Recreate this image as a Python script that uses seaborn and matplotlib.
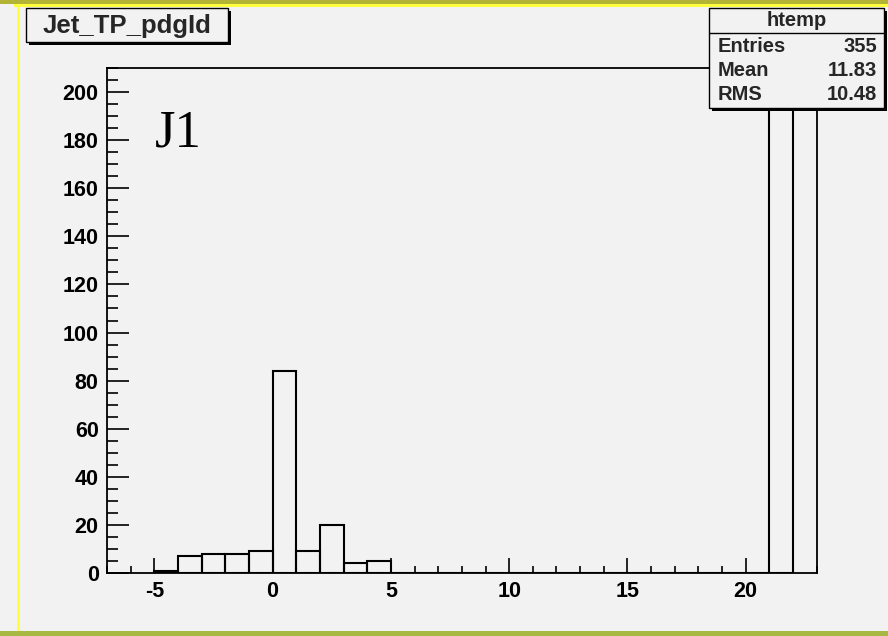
import numpy as np
import matplotlib
matplotlib.use("Agg")
import matplotlib.pyplot as plt
from matplotlib.patches import Rectangle
from matplotlib.lines import Line2D
from matplotlib.ticker import MultipleLocator
import seaborn as sns

# ---- data ----
pdg_values = [-5, -4, -3, -2, -1, 0, 1, 2, 3, 4, 21]
counts = [1, 7, 8, 8, 9, 84, 9, 20, 4, 5, 200]
x_ticks = [-5, 0, 5, 10, 15, 20]
y_ticks = [0, 20, 40, 60, 80, 100, 120, 140, 160, 180, 200]
title = "Jet_TP_pdgId"
stats_name = "htemp"
stats_labels = ["Entries", "Mean", "RMS"]
stats_values = ["355", "11.83", "10.48"]
annotation = "J1"

sns.set_style("ticks")
plt.rcParams["font.family"] = ["Liberation Sans", "DejaVu Sans"]
plt.rcParams["axes.unicode_minus"] = False

W, H = 888, 636
BG = "#f2f2f2"
fig = plt.figure(figsize=(W / 100, H / 100), dpi=100)
fig.patch.set_facecolor(BG)


def fx(px):
    return px / W


def fy(py):
    return 1 - py / H


def frect(x0, y0, x1, y1, **kw):
    r = Rectangle((fx(x0), fy(y1)), fx(x1) - fx(x0), fy(y0) - fy(y1),
                  transform=fig.transFigure, **kw)
    fig.add_artist(r)
    return r


# canvas border decorations
frect(0, 0, W, 4, facecolor="#b3b336", edgecolor="none", zorder=0)
frect(14, 4, W, 7, facecolor="#ffff3c", edgecolor="none", zorder=0)
frect(17, 4, 20, 632, facecolor="#ffff3c", edgecolor="none", zorder=0)
frect(0, 631, W, 636, facecolor="#a9b842", edgecolor="none", zorder=0)

ax_left, ax_right, ax_top, ax_bot = 107, 816.7, 68, 573
ax = fig.add_axes([fx(ax_left), fy(ax_bot), fx(ax_right) - fx(ax_left),
                   fy(ax_top) - fy(ax_bot)])
ax.set_facecolor(BG)

sns.histplot(x=pdg_values, weights=counts, binwidth=1, binrange=(-5, 22),
             element="bars", fill=False, color="black", linewidth=1.5, ax=ax)

ax.set_xlim(-7, 23)
ax.set_ylim(0, 210)
ax.set_xlabel("")
ax.set_ylabel("")
ax.set_xticks(x_ticks)
ax.set_yticks(y_ticks)
ax.xaxis.set_minor_locator(MultipleLocator(1))
ax.yaxis.set_minor_locator(MultipleLocator(5))
ax.tick_params(axis="both", which="both", direction="in", top=False,
               right=False, colors="black", width=1.2)
ax.tick_params(axis="x", which="major", length=10.5, pad=6)
ax.tick_params(axis="x", which="minor", length=5)
ax.tick_params(axis="y", which="major", length=15.5, pad=6)
ax.tick_params(axis="y", which="minor", length=7.7)
for lab in ax.get_xticklabels() + ax.get_yticklabels():
    lab.set_fontweight("bold")
    lab.set_fontsize(15.5)
for s in ax.spines.values():
    s.set_visible(True)
    s.set_linewidth(1.3)
    s.set_color("black")

# J1 annotation
fig.text(fx(155), fy(146), annotation, family=["Liberation Serif", "DejaVu Serif"],
         fontsize=38, ha="left", va="baseline", color="black")

# title box
frect(29, 11, 231, 45, facecolor="black", edgecolor="none", zorder=5)
frect(26, 8, 228, 42, facecolor=BG, edgecolor="black", linewidth=1.0, zorder=6)
fig.text(fx(127), fy(25.5), title, fontsize=18.5, fontweight="bold",
         ha="center", va="center", zorder=7)

# stats box
frect(712, 11, 887, 111, facecolor="black", edgecolor="none", zorder=5)
frect(709, 8, 884, 108, facecolor=BG, edgecolor="black", linewidth=1.0, zorder=6)
fig.add_artist(Line2D([fx(709), fx(884)], [fy(33), fy(33)],
                      transform=fig.transFigure, color="black", lw=1.0, zorder=7))
fig.text(fx(797), fy(20.5), stats_name, fontsize=14.5, fontweight="bold",
         ha="center", va="center", zorder=7)
for i, (lab, val) in enumerate(zip(stats_labels, stats_values)):
    yy = 46 + i * 24.5
    fig.text(fx(718), fy(yy), lab, fontsize=14.5, fontweight="bold",
             ha="left", va="center", zorder=7)
    fig.text(fx(877), fy(yy), val, fontsize=14.5, fontweight="bold",
             ha="right", va="center", zorder=7)

fig.savefig("out.png", dpi=100, facecolor=BG)
